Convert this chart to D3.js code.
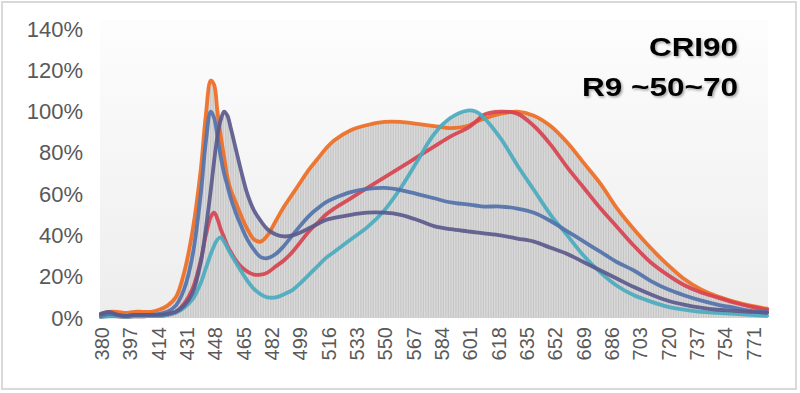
<!DOCTYPE html>
<html>
<head>
<meta charset="utf-8">
<script src="https://cdn.jsdelivr.net/npm/d3@7"></script>
<style>
    body { margin: 0; background: #fff; }
    text { font-family: "Liberation Sans", Arial, sans-serif; }
</style>
</head>
<body>
<div id="chart"></div>
<script>
// Data (relative spectral power, % of peak)
const wavelengths = [380, 385, 390, 395, 400, 405, 410, 415, 420, 425,
    430, 435, 440, 443, 446, 448, 450, 452, 454, 456,
    458, 461, 464, 468, 472, 476, 480, 485, 490, 495,
    500, 505, 510, 515, 520, 530, 540, 550, 560, 570,
    580, 590, 600, 605, 610, 620, 630, 640, 650, 660,
    670, 680, 690, 700, 710, 720, 730, 740, 750, 760,
    770, 780];

const orangeSeries = [2, 3, 3, 2.5, 3, 3, 3, 4, 6, 10,
    22, 42, 72, 98, 115, 113, 100, 88, 78, 68,
    62, 56, 50, 43, 38, 37, 40, 47, 54, 60,
    66, 72, 77, 82, 86, 91, 93.5, 95, 95, 94,
    93, 92, 93, 95, 96.5, 99, 100, 98, 93, 85,
    75, 65, 53, 43, 34, 26, 19, 14, 10.5, 8,
    6, 4.5];

const redSeries = [0.5, 1, 0.8, 0.5, 0.8, 0.8, 1, 1, 1.5, 3,
    7, 14, 28, 40, 49, 51, 48, 43, 39, 35,
    32, 28, 25, 22.5, 21, 21, 22, 25, 28, 32,
    37, 42, 46, 50, 53, 58, 63, 68, 73, 78,
    83, 88, 92, 95, 98.5, 100, 99, 93, 84, 73,
    63, 53, 44, 35, 27, 21, 16, 12.5, 10, 7.5,
    5.5, 4];

const tealSeries = [0.5, 0.8, 0.8, 0.5, 0.8, 0.8, 1, 1, 1.5, 2.5,
    5, 9, 17, 24, 31, 35, 38, 39, 37, 34,
    31, 27, 23, 18, 14, 11.5, 10, 10, 11.5, 13.5,
    17, 21, 25, 29, 32, 38, 44, 52, 63, 76,
    89, 97, 100.5, 100, 97, 87, 74, 62, 50, 40,
    30, 22, 15.5, 11, 8, 5.5, 4, 3, 2.5, 2,
    1.5, 1];

const blueSeries = [1, 2, 1.5, 1, 1.5, 1.5, 1.5, 2, 3, 6,
    14, 30, 60, 85, 100, 97, 88, 78, 70, 64,
    58, 51, 45, 38, 33, 29.5, 29, 31, 35, 40,
    45, 49.5, 53, 56, 58, 61, 62.5, 63, 62, 60,
    58, 56, 55, 54.5, 54, 54, 53, 51, 47, 42,
    37, 32, 27, 23, 18, 14, 11, 8.5, 6.5, 5,
    3.5, 3];

const slateSeries = [2, 3, 1.5, 1, 1.5, 1.5, 1.5, 1.5, 2, 3,
    6, 12, 27, 43, 62, 76, 88, 96, 100, 98,
    92, 82, 72, 60, 52, 47, 43, 40.5, 39.5, 40,
    41.5, 43.5, 45.5, 47.5, 48.5, 50, 51, 51, 50, 47.5,
    44.5, 43, 42, 41.5, 41, 40, 38.5, 37, 34, 31,
    27, 23, 19, 15, 11.5, 8.5, 6.5, 5, 4, 3.5,
    3, 2.5];

const xTickLabels = [380, 397, 414, 431, 448, 465, 482, 499, 516, 533, 550,
    567, 584, 601, 618, 635, 652, 669, 686, 703, 720, 737, 754, 771];
const yTickLabels = [0, 20, 40, 60, 80, 100, 120, 140];
const titleLines = ["CRI90", "R9 ~50~70"];

// Configuration
const config = {
    width: 800,
    height: 393,
    plot: { left: 100, right: 768, top: 29, bottom: 318 }
};

const series = [
    { name: "orange", values: orangeSeries, color: "#ef6d24" },
    { name: "red", values: redSeries, color: "#d6434f" },
    { name: "teal", values: tealSeries, color: "#4aabbf" },
    { name: "blue", values: blueSeries, color: "#5272aa" },
    { name: "slate", values: slateSeries, color: "#5b5a8c" }
];

// Grey columns follow the top of all curves
const envelope = wavelengths.map((w, i) => d3.max(series, s => s.values[i]));

const svg = d3.select("#chart")
    .append("svg")
    .attr("width", config.width)
    .attr("height", config.height);

const defs = svg.append("defs");

const bgGradient = defs.append("linearGradient")
    .attr("id", "plotBg")
    .attr("x1", "0%").attr("y1", "0%")
    .attr("x2", "0%").attr("y2", "100%");
bgGradient.append("stop").attr("offset", "0%").attr("stop-color", "#fdfdfd");
bgGradient.append("stop").attr("offset", "100%").attr("stop-color", "#ededed");

// Scales
const xScale = d3.scaleLinear()
    .domain([379.5, 780.5])
    .range([config.plot.left, config.plot.right]);

const yScale = d3.scaleLinear()
    .domain([0, 140])
    .range([config.plot.bottom, config.plot.top]);

const step = xScale(381) - xScale(380);

// stripes for the grey columns, one per nm
const stripes = defs.append("pattern")
    .attr("id", "stripes")
    .attr("patternUnits", "userSpaceOnUse")
    .attr("x", config.plot.left)
    .attr("y", 0)
    .attr("width", step)
    .attr("height", 10);
stripes.append("rect")
    .attr("width", step)
    .attr("height", 10)
    .attr("fill", "#dcdcdc");
stripes.append("rect")
    .attr("width", 0.6)
    .attr("height", 10)
    .attr("fill", "#bdbdbd");

const shadow = defs.append("filter")
    .attr("id", "textShadow")
    .attr("x", "-10%").attr("y", "-20%")
    .attr("width", "130%").attr("height", "150%");
shadow.append("feDropShadow")
    .attr("dx", 1.5)
    .attr("dy", 1.5)
    .attr("stdDeviation", 1.2)
    .attr("flood-color", "#000")
    .attr("flood-opacity", 0.35);

// Outer chart border
svg.append("rect")
    .attr("x", 2)
    .attr("y", 2)
    .attr("width", 794)
    .attr("height", 387)
    .attr("fill", "#fff")
    .attr("stroke", "#d9d9d9")
    .attr("stroke-width", 2);

// Plot background
svg.append("rect")
    .attr("x", config.plot.left)
    .attr("y", 20)
    .attr("width", config.plot.right - config.plot.left)
    .attr("height", config.plot.bottom - 20)
    .attr("fill", "url(#plotBg)");

// Grey column area
const area = d3.area()
    .x((d, i) => xScale(wavelengths[i]))
    .y0(yScale(0))
    .y1(d => yScale(d))
    .curve(d3.curveCatmullRom.alpha(0.5));

svg.append("path")
    .datum(envelope)
    .attr("d", area)
    .attr("fill", "url(#stripes)");

// Lines
const line = d3.line()
    .x((d, i) => xScale(wavelengths[i]))
    .y(d => yScale(d))
    .curve(d3.curveCatmullRom.alpha(0.5));

svg.selectAll(".series")
    .data(series)
    .enter()
    .append("path")
    .attr("class", "series")
    .attr("d", d => line(d.values))
    .attr("fill", "none")
    .attr("stroke", d => d.color)
    .attr("stroke-width", 3.8)
    .attr("stroke-linejoin", "round")
    .attr("stroke-linecap", "round")
    .attr("opacity", 0.92);

// Y axis labels
const yAxis = d3.axisLeft(yScale)
    .tickValues(yTickLabels)
    .tickFormat(d => d + "%")
    .tickSize(0)
    .tickPadding(17);

const yAxisG = svg.append("g")
    .attr("transform", `translate(${config.plot.left}, 0)`)
    .call(yAxis);
yAxisG.select(".domain").remove();
yAxisG.selectAll("text")
    .attr("fill", "#595959")
    .style("font-size", "22px")
    .style("font-family", "'Liberation Sans', Arial, sans-serif");

// X axis labels (rotated)
const xAxis = d3.axisBottom(xScale)
    .tickValues(xTickLabels)
    .tickFormat(d => d)
    .tickSize(0);

const xAxisG = svg.append("g")
    .attr("transform", `translate(${step / 2}, ${config.plot.bottom})`)
    .call(xAxis);
xAxisG.select(".domain").remove();
xAxisG.selectAll("text")
    .attr("transform", "rotate(-90)")
    .attr("x", -9)
    .attr("y", 0)
    .attr("dy", "0.35em")
    .attr("text-anchor", "end")
    .attr("fill", "#595959")
    .style("font-size", "20px")
    .style("font-family", "'Liberation Sans', Arial, sans-serif");

// Title text in the corner
svg.selectAll(".title")
    .data(titleLines)
    .enter()
    .append("text")
    .attr("class", "title")
    .attr("x", 738)
    .attr("y", (d, i) => 56 + i * 40)
    .attr("text-anchor", "end")
    .attr("textLength", (d, i) => i === 0 ? 89 : 156)
    .attr("lengthAdjust", "spacingAndGlyphs")
    .attr("filter", "url(#textShadow)")
    .style("font-size", "25px")
    .style("font-weight", "bold")
    .attr("fill", "#000")
    .text(d => d);
</script>
</body>
</html>
